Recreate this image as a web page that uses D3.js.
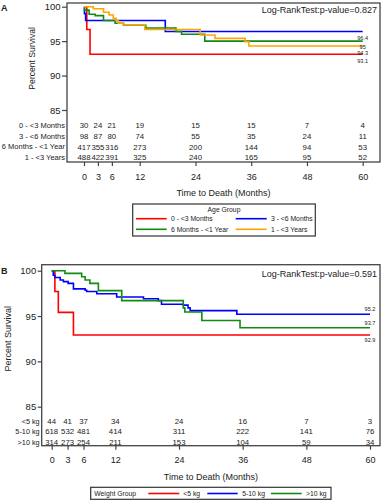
<!DOCTYPE html>
<html><head><meta charset="utf-8">
<script src="https://cdn.jsdelivr.net/npm/d3@7"></script>
<style>body{margin:0;background:#fff}svg{display:block}text{font-family:"Liberation Sans",Arial,sans-serif;fill:#222}</style>
</head><body><svg id="c" width="381" height="500"></svg>
<script>
// ---------- DATA ----------
const timeTicks = [0, 3, 6, 12, 24, 36, 48, 60];
const survTicks = [85, 90, 95, 100];

// Panel A: Age group
const groupsA = ["0 - <3 Months", "3 - <6 Months", "6 Months - <1 Year", "1 - <3 Years"];
const colorsA = ["#ff0000", "#0000ff", "#138a13", "#ffa500"];
const timesA0 = [0, 0.6, 1.3, 60];
const survA0 = [100, 96.7, 93.1, 93.1];
const timesA1 = [0, 0.1, 0.35, 17.5, 60];
const survA1 = [100, 99.0, 98.0, 96.4, 96.4];
const timesA2 = [0, 0.1, 1.1, 2.4, 4.2, 6.7, 8.5, 13.3, 19.8, 21, 26, 60];
const survA2 = [100, 99.5, 98.9, 98.7, 98.0, 97.6, 97.3, 96.9, 96.4, 96.0, 95.0, 95.0];
const timesA3 = [0, 2.0, 4.2, 5.4, 6.3, 6.9, 7.4, 8.5, 13.1, 25, 28.2, 34.7, 35.5, 60];
const survA3 = [100, 99.7, 99.2, 98.8, 98.3, 98.0, 97.6, 97.35, 96.7, 95.9, 95.4, 94.9, 94.3, 94.3];
const riskA0 = [30, 24, 21, 19, 15, 15, 7, 4];
const riskA1 = [98, 87, 80, 74, 55, 35, 24, 11];
const riskA2 = [417, 355, 316, 273, 200, 144, 94, 53];
const riskA3 = [488, 422, 391, 325, 240, 165, 95, 52];
const endLabelsA = ["93.1", "96.4", "95", "94.3"];
const pValueA = "0.827";

// Panel B: Weight group
const groupsB = ["<5 kg", "5-10 kg", ">10 kg"];
const colorsB = ["#ff0000", "#0000ff", "#138a13"];
const timesB0 = [0, 0.6, 1.25, 4.1, 60];
const survB0 = [100, 97.7, 95.4, 92.9, 92.9];
const timesB1 = [0, 0.3, 0.6, 1.6, 2.2, 3.1, 4.1, 6.3, 6.6, 8.5, 12.25, 17.3, 20.1, 20.7, 24.8, 25.7, 26.1, 34.9, 60];
const survB1 = [100, 99.5, 99.25, 98.97, 98.8, 98.6, 98.0, 97.85, 97.7, 97.45, 97.1, 96.9, 96.7, 96.3, 96.2, 95.9, 95.6, 95.2, 95.2];
const timesB2 = [0, 2.5, 5.65, 6.3, 7.2, 8.8, 13.2, 24.8, 25.1, 28.3, 35.5, 60];
const survB2 = [100, 99.7, 99.33, 98.97, 98.6, 97.8, 96.7, 95.9, 95.45, 94.5, 93.7, 93.7];
const riskB0 = [44, 41, 37, 34, 24, 16, 7, 3];
const riskB1 = [618, 532, 481, 414, 311, 222, 141, 76];
const riskB2 = [314, 273, 254, 211, 153, 104, 59, 34];
const endLabelsB = ["92.9", "95.2", "93.7"];
const pValueB = "0.591";

// ---------- DRAW ----------
const svg = d3.select("#c");
const frameCol = "#444";

function panel(cfg) {
  const g = svg.append("g");
  const x = d3.scaleLinear().domain([0, 60]).range(cfg.xr);
  const y = d3.scaleLinear().domain([85, 100]).range(cfg.yr);
  // frame
  g.append("rect").attr("x", cfg.frame[0]).attr("y", cfg.frame[1])
    .attr("width", cfg.frame[2] - cfg.frame[0]).attr("height", cfg.frame[3] - cfg.frame[1])
    .attr("fill", "none").attr("stroke", frameCol).attr("stroke-width", 1.3);
  // y axis
  const ya = g.append("g").attr("transform", `translate(${cfg.frame[0]},0)`)
    .call(d3.axisLeft(y).tickValues(survTicks).tickSize(cfg.ytick).tickPadding(1.5));
  ya.select(".domain").remove();
  ya.selectAll("line").attr("stroke", frameCol).attr("stroke-width", 1.2);
  ya.selectAll("text").style("font-size", cfg.yfs + "px").style("font-family", '"Liberation Sans",Arial,sans-serif').attr("fill", "#222");
  // x axis
  const xa = g.append("g").attr("transform", `translate(0,${cfg.frame[3]})`)
    .call(d3.axisBottom(x).tickValues(timeTicks).tickSize(4).tickPadding(cfg.xpad));
  xa.select(".domain").remove();
  xa.selectAll("line").attr("stroke", frameCol).attr("stroke-width", 1.2);
  xa.selectAll("text").style("font-size", "9px").style("font-family", '"Liberation Sans",Arial,sans-serif').attr("fill", "#222");
  // axis titles
  g.append("text").attr("x", (cfg.frame[0] + cfg.frame[2]) / 2).attr("y", cfg.xtitleY)
    .attr("text-anchor", "middle").style("font-size", "9px").text("Time to Death (Months)");
  g.append("text").attr("transform", `translate(${cfg.ytitleX},${(y(85) + y(100)) / 2}) rotate(-90)`)
    .attr("text-anchor", "middle").style("font-size", cfg.ytfs + "px").text("Percent Survival");
  // panel letter
  g.append("text").attr("x", 1).attr("y", cfg.letterY).style("font-size", "9px").style("font-weight", "bold").text(cfg.letter);
  // p-value
  g.append("text").attr("x", cfg.frame[2] - 3).attr("y", cfg.pY).attr("text-anchor", "end")
    .style("font-size", "9px").text("Log-RankTest:p-value=" + cfg.p);
  // curves
  const line = d3.line().x(d => x(d[0])).y(d => y(d[1])).curve(d3.curveStepAfter);
  cfg.series.forEach((s, i) => {
    const pts = s.t.map((t, k) => [t, s.s[k]]);
    g.append("path").attr("d", line(pts)).attr("fill", "none")
      .attr("stroke", cfg.colors[i]).attr("stroke-width", 1.6);
  });
  // end labels
  cfg.series.forEach((s, i) => {
    const last = s.s[s.s.length - 1];
    g.append("text").attr("x", x(60)).attr("y", y(last) + cfg.labOff[i])
      .attr("text-anchor", "middle").style("font-size", "5.6px").text(cfg.endLabels[i]);
  });
  // risk table
  cfg.risk.forEach((r, i) => {
    g.append("text").attr("x", cfg.frame[0] - 2).attr("y", cfg.riskY[i]).attr("dy", "0.35em")
      .attr("text-anchor", "end").style("font-size", cfg.rlfs + "px").text(cfg.groups[i]);
    g.selectAll(null).data(r).enter().append("text")
      .attr("x", (d, k) => x(timeTicks[k])).attr("y", cfg.riskY[i]).attr("dy", "0.35em")
      .attr("text-anchor", "middle").style("font-size", cfg.rnfs + "px").text(d => d);
  });
  return {x, y};
}

panel({
  letter: "A", letterY: 11, p: pValueA, pY: 13,
  frame: [67, 3, 380, 162], xr: [84, 362.7], yr: [110, 6.7],
  ytick: 5, yfs: 9.5, xpad: 7.5, xtitleY: 195.5, ytitleX: 34.5, ytfs: 8.6,
  colors: colorsA, groups: groupsA, endLabels: endLabelsA,
  series: [{t: timesA0, s: survA0}, {t: timesA1, s: survA1}, {t: timesA2, s: survA2}, {t: timesA3, s: survA3}],
  labOff: [9, 9, 8, 9],
  risk: [riskA0, riskA1, riskA2, riskA3], riskY: [125, 136, 146.8, 157.5], rlfs: 7.5, rnfs: 7.8
});
panel({
  letter: "B", letterY: 274, p: pValueB, pY: 277,
  frame: [41.7, 264.7, 380, 445.7], xr: [51.7, 370], yr: [406.7, 270.7],
  ytick: 4, yfs: 9.5, xpad: 7, xtitleY: 479.5, ytitleX: 11, ytfs: 9,
  colors: colorsB, groups: groupsB, endLabels: endLabelsB,
  series: [{t: timesB0, s: survB0}, {t: timesB1, s: survB1}, {t: timesB2, s: survB2}],
  labOff: [6.5, -2.8, -3],
  risk: [riskB0, riskB1, riskB2], riskY: [421, 431.5, 442], rlfs: 7.3, rnfs: 7.8
});

// Legend A
const lgA = svg.append("g");
lgA.append("rect").attr("x", 132.7).attr("y", 204).attr("width", 182.6).attr("height", 32)
  .attr("fill", "#fff").attr("stroke", "#333").attr("stroke-width", 1.2);
lgA.append("text").attr("x", 224).attr("y", 211.8).attr("text-anchor", "middle").style("font-size", "6.8px").text("Age Group");
const colX = [[136, 166.7, 171], [235.7, 266.7, 271]];
const rowY = [218.7, 229.3];
groupsA.forEach((name, i) => {
  const c = colX[i % 2], ry = rowY[Math.floor(i / 2)];
  lgA.append("line").attr("x1", c[0]).attr("x2", c[1]).attr("y1", ry).attr("y2", ry)
    .attr("stroke", colorsA[i]).attr("stroke-width", 1.6);
  lgA.append("text").attr("x", c[2]).attr("y", ry).attr("dy", "0.35em").style("font-size", "6.8px").text(name);
});

// Legend B
const lgB = svg.append("g");
lgB.append("rect").attr("x", 90.7).attr("y", 487.3).attr("width", 240.3).attr("height", 12)
  .attr("fill", "#fff").attr("stroke", "#333").attr("stroke-width", 1.2);
lgB.append("text").attr("x", 94.3).attr("y", 493.5).attr("dy", "0.35em").style("font-size", "6.8px").text("Weight Group");
const colB = [[148.3, 179.3, 183.3], [207.3, 237.7, 242.3], [271, 301.7, 306]];
groupsB.forEach((name, i) => {
  const c = colB[i];
  lgB.append("line").attr("x1", c[0]).attr("x2", c[1]).attr("y1", 493.5).attr("y2", 493.5)
    .attr("stroke", colorsB[i]).attr("stroke-width", 1.6);
  lgB.append("text").attr("x", c[2]).attr("y", 493.5).attr("dy", "0.35em").style("font-size", "6.8px").text(name);
});
</script></body></html>
